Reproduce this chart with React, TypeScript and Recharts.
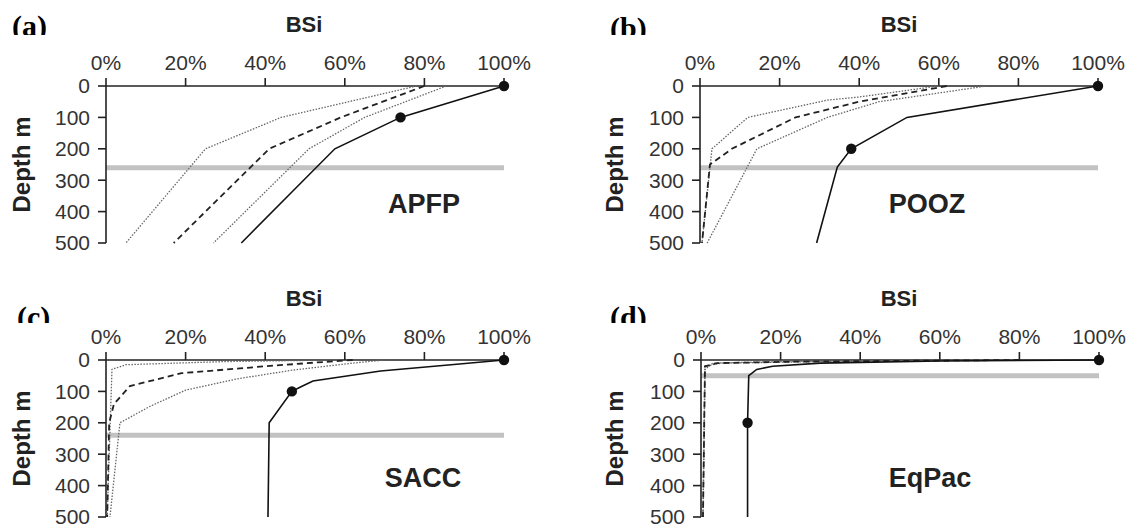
import React from 'react';
import { ScatterChart, Scatter, XAxis, YAxis, ReferenceLine } from 'recharts';

// ---- shared axis ticks ----
const bsiTicks = [0, 20, 40, 60, 80, 100];
const depthTicks = [0, 100, 200, 300, 400, 500];

// ---- (a) APFP : [depth m, BSi %] ----
const apfpSolid = [[0, 100], [100, 74], [200, 57.5], [500, 34]];
const apfpDashed = [[0, 80], [100, 59], [200, 41], [500, 17]];
const apfpDotOuter = [[0, 85.5], [100, 65], [200, 51], [500, 27]];
const apfpDotInner = [[0, 78], [100, 44], [200, 25], [500, 5]];
const apfpMarkers = [[0, 100], [100, 74]];
const apfpBand = 260;

// ---- (b) POOZ ----
const poozSolid = [[0, 100], [100, 52], [200, 38], [258, 34.5], [500, 29.3]];
const poozDashed = [[0, 62], [50, 40], [100, 24], [200, 8], [250, 2.5], [500, 0.5]];
const poozDotOuter = [[0, 72], [50, 45], [100, 32], [200, 14.3], [500, 1.8]];
const poozDotInner = [[0, 60], [35, 40], [45, 32], [100, 12], [200, 3], [500, 0.5]];
const poozMarkers = [[0, 100], [200, 38]];
const poozBand = 260;

// ---- (c) SACC ----
const saccSolid = [[0, 100], [16, 86], [35, 69], [67, 52], [85, 49], [100, 46.7], [200, 41], [500, 40.7]];
const saccDashed = [[0, 62], [6, 55], [20, 40], [42, 19], [83, 6], [140, 2], [200, 0.8], [500, 0.3]];
const saccDotOuter = [[0, 70], [10, 62], [32, 47], [60, 33], [96, 20], [148, 11], [200, 3.5], [500, 1]];
const saccDotInner = [[0, 58], [5, 30], [15, 5], [30, 1.5], [500, 0.3]];
const saccMarkers = [[0, 100], [100, 46.7]];
const saccBand = 240;

// ---- (d) EqPac ----
const eqpacSolid = [[0, 100], [3, 60], [10, 30], [20, 18], [30, 14], [50, 12], [200, 11.7], [500, 11.7]];
const eqpacDashed = [[0, 80], [5, 25], [10, 4], [20, 1], [500, 0.5]];
const eqpacDotOuter = [[0, 90], [5, 30], [10, 5], [20, 1], [500, 0.5]];
const eqpacDotInner = [[0, 70], [5, 20], [10, 3], [30, 1], [500, 0.5]];
const eqpacMarkers = [[0, 100], [200, 11.7]];
const eqpacBand = 50;

const toPts = (arr: number[][]) => arr.map(([d, v]) => ({ x: v, y: d }));

const FONT = '"Liberation Sans", Arial, sans-serif';
const SERIF = '"Liberation Serif", "Times New Roman", serif';
const INK = '#222';

const Empty = () => <g />;
const Dot = (p: any) => <circle cx={p.cx} cy={p.cy} r={5.2} fill="#111" />;

type PanelProps = {
  left: number; top: number;
  solid: number[][]; dashed: number[][]; dotOuter: number[][]; dotInner: number[][];
  markers: number[][]; band: number;
};

function Panel({ left, top, solid, dashed, dotOuter, dotInner, markers, band }: PanelProps) {
  return (
    <div style={{ position: 'absolute', left, top }}>
      <ScatterChart width={540} height={263} margin={{ top: 56, right: 36, bottom: 20, left: 66 }}>
        <XAxis
          type="number" dataKey="x" orientation="top" domain={[0, 100]} ticks={bsiTicks} interval={0}
          tickFormatter={(v: number) => `${v}%`} height={30} tickSize={8} tickMargin={8}
          axisLine={{ stroke: INK, strokeWidth: 1.6 }} tickLine={{ stroke: INK, strokeWidth: 1.6 }}
          tick={{ fill: '#333', fontSize: 21, fontFamily: FONT }}
        />
        <YAxis
          type="number" dataKey="y" domain={[0, 500]} reversed ticks={depthTicks} interval={0}
          width={40} tickSize={8} tickMargin={8}
          axisLine={{ stroke: INK, strokeWidth: 1.6 }} tickLine={{ stroke: INK, strokeWidth: 1.6 }}
          tick={{ fill: '#333', fontSize: 21, fontFamily: FONT }}
        />
        <ReferenceLine y={band} stroke="#c2c2c2" strokeWidth={5} />
        <Scatter data={toPts(dotInner)} isAnimationActive={false} shape={Empty}
          line={{ stroke: '#666', strokeWidth: 1.3, strokeDasharray: '1.5 1.5' }} />
        <Scatter data={toPts(dotOuter)} isAnimationActive={false} shape={Empty}
          line={{ stroke: '#666', strokeWidth: 1.3, strokeDasharray: '1.5 1.5' }} />
        <Scatter data={toPts(dashed)} isAnimationActive={false} shape={Empty}
          line={{ stroke: '#222', strokeWidth: 1.8, strokeDasharray: '6 4' }} />
        <Scatter data={toPts(solid)} isAnimationActive={false} shape={Empty}
          line={{ stroke: '#111', strokeWidth: 1.6 }} />
        <Scatter data={toPts(markers)} isAnimationActive={false} shape={Dot} />
      </ScatterChart>
    </div>
  );
}

const panels = [
  { left: 0, top: 0, solid: apfpSolid, dashed: apfpDashed, dotOuter: apfpDotOuter, dotInner: apfpDotInner, markers: apfpMarkers, band: apfpBand },
  { left: 594, top: 0, solid: poozSolid, dashed: poozDashed, dotOuter: poozDotOuter, dotInner: poozDotInner, markers: poozMarkers, band: poozBand },
  { left: 0, top: 274, solid: saccSolid, dashed: saccDashed, dotOuter: saccDotOuter, dotInner: saccDotInner, markers: saccMarkers, band: saccBand },
  { left: 595, top: 274, solid: eqpacSolid, dashed: eqpacDashed, dotOuter: eqpacDotOuter, dotInner: eqpacDotInner, markers: eqpacMarkers, band: eqpacBand },
];

const names = [
  { text: 'APFP', x: 424, y: 213 },
  { text: 'POOZ', x: 927, y: 213 },
  { text: 'SACC', x: 423, y: 487 },
  { text: 'EqPac', x: 930, y: 487 },
];

const letters = [
  { text: '(a)', x: 12, y: 36, clip: 35 },
  { text: '(b)', x: 610, y: 38, clip: 35 },
  { text: '(c)', x: 17, y: 327, clip: 323 },
  { text: '(d)', x: 610, y: 327, clip: 323 },
];

const bsiTitles = [
  { x: 304, y: 32 }, { x: 899, y: 32 }, { x: 304, y: 306 }, { x: 899, y: 306 },
];
const depthTitles = [
  { x: 30, y: 164.5 }, { x: 623, y: 164.5 }, { x: 30, y: 438.5 }, { x: 623, y: 438.5 },
];

export default function App() {
  return (
    <div style={{ position: 'absolute', left: 0, top: 0, width: 1134, height: 526, background: '#fff', overflow: 'hidden' }}>
      {panels.map((p, i) => <Panel key={i} {...p} />)}
      <svg width={1134} height={526} style={{ position: 'absolute', left: 0, top: 0, pointerEvents: 'none' }}>
        <defs>
          <clipPath id="clipTop"><rect x={0} y={0} width={1134} height={35} /></clipPath>
          <clipPath id="clipBottom"><rect x={0} y={263} width={1134} height={60} /></clipPath>
        </defs>
        {letters.map((l, i) => (
          <text key={i} x={l.x} y={l.y} fontFamily={SERIF} fontWeight="bold" fontSize={30} fill="#000"
            clipPath={l.clip < 100 ? 'url(#clipTop)' : 'url(#clipBottom)'}>{l.text}</text>
        ))}
        {bsiTitles.map((b, i) => (
          <text key={i} x={b.x} y={b.y} textAnchor="middle" fontFamily={FONT} fontWeight="bold" fontSize={22} fill={INK}>BSi</text>
        ))}
        {depthTitles.map((d, i) => (
          <text key={i} x={d.x} y={d.y} textAnchor="middle" transform={`rotate(-90 ${d.x} ${d.y})`}
            fontFamily={FONT} fontWeight="bold" fontSize={24} fill={INK}>Depth m</text>
        ))}
        {names.map((n, i) => (
          <text key={i} x={n.x} y={n.y} textAnchor="middle" fontFamily={FONT} fontWeight="bold" fontSize={27} fill={INK}>{n.text}</text>
        ))}
      </svg>
    </div>
  );
}
